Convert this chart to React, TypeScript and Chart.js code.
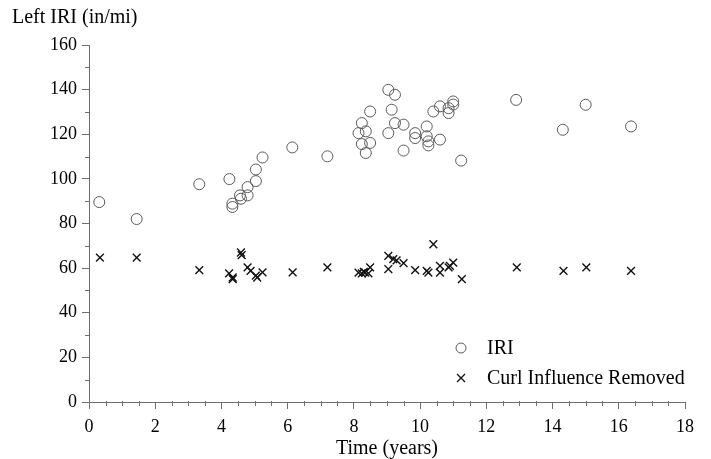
import React, { useEffect, useRef } from 'react';
import { Chart, registerables } from 'chart.js';
Chart.register(...registerables);

const iriX = [0.31, 1.44, 3.33, 4.24, 4.33, 4.33, 4.56, 4.59, 4.79, 4.79, 5.04, 5.04, 5.24, 6.14, 7.2, 8.14, 8.24, 8.24, 8.36, 8.36, 8.49, 8.49, 9.04, 9.04, 9.14, 9.24, 9.24, 9.5, 9.5, 9.85, 9.85, 10.2, 10.2, 10.25, 10.25, 10.4, 10.6, 10.6, 10.86, 10.86, 11.0, 11.0, 11.24, 12.9, 14.31, 15.0, 16.37];
const iriY = [89.6, 82.0, 97.6, 99.9, 88.9, 87.4, 92.6, 91.1, 96.3, 92.6, 99.0, 104.2, 109.6, 114.1, 110.1, 120.5, 125.0, 115.6, 121.3, 111.6, 130.2, 116.1, 139.9, 120.5, 131.0, 137.7, 125.0, 124.3, 112.7, 120.5, 118.3, 123.5, 119.1, 116.8, 115.0, 130.2, 132.5, 117.6, 131.7, 129.5, 134.7, 133.3, 108.2, 135.4, 122.0, 133.2, 123.5];
const curlX = [0.33, 1.44, 3.33, 4.23, 4.34, 4.34, 4.59, 4.61, 4.79, 4.88, 5.04, 5.08, 5.24, 6.15, 7.2, 8.14, 8.24, 8.3, 8.34, 8.44, 8.49, 9.04, 9.04, 9.19, 9.29, 9.5, 9.85, 10.2, 10.25, 10.4, 10.6, 10.6, 10.86, 10.9, 11.0, 11.26, 12.92, 14.33, 15.02, 16.37];
const curlY = [64.7, 64.7, 59.1, 57.6, 55.8, 55.1, 67.0, 65.8, 60.3, 58.8, 56.6, 55.8, 58.1, 58.1, 60.3, 58.0, 57.6, 58.3, 58.0, 57.6, 60.3, 65.5, 59.6, 64.0, 63.5, 62.2, 59.1, 58.8, 58.0, 70.7, 61.0, 58.0, 60.3, 61.0, 62.5, 55.1, 60.3, 58.8, 60.3, 58.8];

const seriesLabels = ['IRI', 'Curl Influence Removed'];
const yAxisTitle = 'Left IRI (in/mi)';
const xAxisTitle = 'Time (years)';
const xMajorStep = 2;
const yMajorStep = 20;

const FONT = '"Liberation Serif", "Times New Roman", serif';
const AXIS_COLOR = '#6e6e6e';
const CIRCLE_COLOR = '#5a5a5a';
const CROSS_COLOR = '#111111';

const isMajor = (v: number, step: number) => Math.abs(v / step - Math.round(v / step)) < 1e-6;

const extrasPlugin = {
  id: 'extras',
  afterDraw(chart: any) {
    const { ctx, scales, chartArea } = chart;
    const xs = scales.x;
    const ys = scales.y;
    ctx.save();
    ctx.strokeStyle = AXIS_COLOR;
    ctx.lineWidth = 1;
    xs.ticks.forEach((t: any) => {
      if (!isMajor(t.value, xMajorStep)) {
        const px = Math.round(xs.getPixelForValue(t.value)) + 0.5;
        ctx.beginPath();
        ctx.moveTo(px, chartArea.bottom - 1);
        ctx.lineTo(px, chartArea.bottom + 4);
        ctx.stroke();
      }
    });
    ys.ticks.forEach((t: any) => {
      if (!isMajor(t.value, yMajorStep)) {
        const py = Math.round(ys.getPixelForValue(t.value)) + 0.5;
        ctx.beginPath();
        ctx.moveTo(chartArea.left - 4, py);
        ctx.lineTo(chartArea.left, py);
        ctx.stroke();
      }
    });
    ctx.fillStyle = '#000';
    ctx.font = `20px ${FONT}`;
    ctx.textAlign = 'left';
    ctx.textBaseline = 'middle';
    ctx.fillText(yAxisTitle, 12, 18);
    // legend
    const lx = 461;
    const rows = [348, 378];
    ctx.strokeStyle = CIRCLE_COLOR;
    ctx.lineWidth = 1;
    ctx.beginPath();
    ctx.arc(lx, rows[0], 5, 0, Math.PI * 2);
    ctx.stroke();
    ctx.strokeStyle = CROSS_COLOR;
    ctx.lineWidth = 1.3;
    const r = 4;
    ctx.beginPath();
    ctx.moveTo(lx - r, rows[1] - r);
    ctx.lineTo(lx + r, rows[1] + r);
    ctx.moveTo(lx + r, rows[1] - r);
    ctx.lineTo(lx - r, rows[1] + r);
    ctx.stroke();
    ctx.fillStyle = '#000';
    ctx.font = `20px ${FONT}`;
    chart.data.datasets.forEach((ds: any, i: number) => {
      ctx.fillText(ds.label, 487, rows[i] + 1);
    });
    ctx.restore();
  },
};

export default function App() {
  const ref = useRef<HTMLCanvasElement>(null);
  useEffect(() => {
    document.body.style.margin = '0';
    const canvas = ref.current!;
    const chart = new Chart(canvas, {
      type: 'scatter',
      data: {
        datasets: [
          {
            label: seriesLabels[0],
            data: iriX.map((x, i) => ({ x, y: iriY[i] })),
            pointStyle: 'circle',
            pointRadius: 5.5,
            pointBorderWidth: 1,
            borderColor: CIRCLE_COLOR,
            backgroundColor: 'rgba(0,0,0,0)',
            pointBackgroundColor: 'rgba(0,0,0,0)',
            pointBorderColor: CIRCLE_COLOR,
          },
          {
            label: seriesLabels[1],
            data: curlX.map((x, i) => ({ x, y: curlY[i] })),
            pointStyle: 'crossRot',
            pointRadius: 5.5,
            pointBorderWidth: 1.4,
            borderColor: CROSS_COLOR,
            pointBorderColor: CROSS_COLOR,
            backgroundColor: 'rgba(0,0,0,0)',
          },
        ],
      },
      options: {
        animation: false,
        responsive: false,
        maintainAspectRatio: false,
        layout: { padding: { left: 8, top: 45, right: 26, bottom: 0 } },
        plugins: {
          legend: { display: false },
          title: { display: false },
          tooltip: { enabled: false },
        },
        scales: {
          x: {
            type: 'linear',
            min: 0,
            max: 18,
            afterFit: (s: any) => { s.height = 57; },
            border: { display: true, color: AXIS_COLOR, width: 1 },
            grid: {
              display: true,
              drawOnChartArea: false,
              drawTicks: true,
              tickLength: 7,
              tickColor: (c: any) => (c.tick && isMajor(c.tick.value, xMajorStep) ? AXIS_COLOR : 'rgba(0,0,0,0)'),
            },
            ticks: {
              stepSize: 0.5,
              autoSkip: false,
              maxRotation: 0,
              padding: 7,
              color: '#000',
              font: { family: FONT, size: 18 },
              callback: (v: any) => (isMajor(Number(v), xMajorStep) ? String(v) : ''),
            },
            title: {
              display: true,
              text: xAxisTitle,
              color: '#000',
              font: { family: FONT, size: 20, lineHeight: 1 },
              padding: { top: 0, bottom: 0 },
            },
          },
          y: {
            type: 'linear',
            min: 0,
            max: 160,
            afterFit: (s: any) => { s.width = 81; },
            border: { display: true, color: AXIS_COLOR, width: 1 },
            grid: {
              display: true,
              drawOnChartArea: false,
              drawTicks: true,
              tickLength: 7,
              tickColor: (c: any) => (c.tick && isMajor(c.tick.value, yMajorStep) ? AXIS_COLOR : 'rgba(0,0,0,0)'),
            },
            ticks: {
              stepSize: 10,
              autoSkip: false,
              padding: 5,
              color: '#000',
              font: { family: FONT, size: 18 },
              callback: (v: any) => (isMajor(Number(v), yMajorStep) ? String(v) : ''),
            },
          },
        },
      },
      plugins: [extrasPlugin],
    });
    return () => chart.destroy();
  }, []);
  return (
    <div style={{ width: 711, height: 459 }}>
      <canvas ref={ref} width={711} height={459} style={{ display: 'block', width: 711, height: 459 }} />
    </div>
  );
}
